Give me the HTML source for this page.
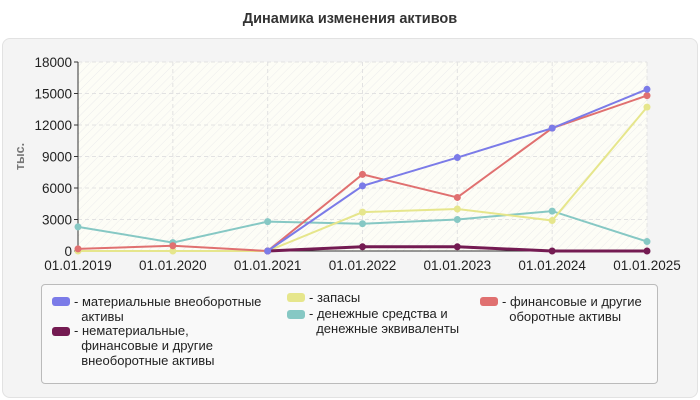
<!DOCTYPE html>
<html><head><meta charset="utf-8"><style>
body{margin:0;background:#fff;font-family:"Liberation Sans",sans-serif;}
#wrap{position:relative;width:700px;height:400px;overflow:hidden;}
.lg{position:absolute;font-size:13px;line-height:15px;color:#222;}
.sw{position:absolute;width:18px;height:9px;border-radius:3px;}
</style></head><body>
<div id="wrap">
<div style="position:absolute;left:0;width:700px;top:11px;text-align:center;font-size:14.5px;font-weight:bold;color:#333">Динамика изменения активов</div>
<div style="position:absolute;left:2px;top:38px;width:694px;height:358px;background:#f4f4f4;border:1px solid #e2e2e2;border-radius:8px"></div>
<svg id="svg" width="700" height="400" style="position:absolute;left:0;top:0">
<defs><pattern id="hatch" width="6" height="6" patternUnits="userSpaceOnUse" patternTransform="rotate(45)"><rect width="6" height="6" fill="#fdfdf6"/><line x1="0" y1="0" x2="0" y2="6" stroke="#ececec" stroke-width="1"/></pattern></defs>
</svg>
<div style="position:absolute;left:41px;top:284px;width:615px;height:98px;border:1px solid #bbb;border-radius:4px;background:#f9f9f9"></div>
<div class="sw" style="left:52px;top:297px;background:#7b7be8"></div>
<div class="lg" style="left:74px;top:294px;width:210px">- материальные внеоборотные<br>&nbsp;&nbsp;активы</div>
<div class="sw" style="left:52px;top:327px;background:#741b52"></div>
<div class="lg" style="left:74px;top:323px;width:210px">- нематериальные,<br>&nbsp;&nbsp;финансовые и другие<br>&nbsp;&nbsp;внеоборотные активы</div>
<div class="sw" style="left:287px;top:293px;background:#e6e68c"></div>
<div class="lg" style="left:309px;top:290px">- запасы</div>
<div class="sw" style="left:287px;top:310px;background:#86c8c4"></div>
<div class="lg" style="left:309px;top:306px">- денежные средства и<br>&nbsp;&nbsp;денежные эквиваленты</div>
<div class="sw" style="left:480px;top:297px;background:#e07070"></div>
<div class="lg" style="left:502px;top:294px">- финансовые и другие<br>&nbsp;&nbsp;оборотные активы</div>
</div>
<script>
const categories=["01.01.2019","01.01.2020","01.01.2021","01.01.2022","01.01.2023","01.01.2024","01.01.2025"];
const yTicks=[0,3000,6000,9000,12000,15000,18000];
const tangible=[null,null,0,6200,8900,11700,15400];
const intangible=[null,null,0,400,400,0,0];
const inventory=[0,0,0,3700,4000,2900,13700];
const cash=[2300,800,2800,2600,3000,3800,900];
const financial=[200,500,0,7300,5100,11700,14800];
const L=78,R=647,T=62,B=251,yMax=18000;
const xs=i=>L+(R-L)*i/(categories.length-1);
const ys=v=>B-(B-T)*v/yMax;
const svg=document.getElementById('svg');
const NS="http://www.w3.org/2000/svg";
function mk(t,a){const e=document.createElementNS(NS,t);for(const k in a)e.setAttribute(k,a[k]);svg.appendChild(e);return e;}
const bg=mk('rect',{x:L,y:T,width:R-L,height:B-T,fill:'url(#hatch)'});


yTicks.forEach(v=>{
 const g=mk('line',{x1:L,x2:R,y1:ys(v),y2:ys(v),stroke:'#e2e2e2','stroke-dasharray':'4,3'});
 
 
 const tk=mk('line',{x1:L-4,x2:L,y1:ys(v),y2:ys(v),stroke:'#333'});
 
 
 const t=mk('text',{x:L-6,y:ys(v)+5,'text-anchor':'end','font-size':'13.5',fill:'#222'});
 t.textContent=v;
 
 
});
categories.forEach((c,i)=>{
 const g=mk('line',{x1:xs(i),x2:xs(i),y1:T,y2:B,stroke:'#e2e2e2','stroke-dasharray':'4,3'});
 
 
 const t=mk('text',{x:xs(i),y:B+19,'text-anchor':'middle','font-size':'13.5',fill:'#222'});
 t.textContent=c;
 
 
});
const ya=mk('line',{x1:L,x2:L,y1:T,y2:B,stroke:'#333'});


const xa=mk('line',{x1:L,x2:R,y1:B,y2:B,stroke:'#333'});


const yt=mk('text',{x:0,y:0,transform:`translate(24,${(T+B)/2}) rotate(-90)`,'text-anchor':'middle','font-size':'12.5','font-weight':'bold',fill:'#777'});
yt.textContent='тыс.';


const series=[[cash,'#86c8c4',2,'cash'],[inventory,'#e6e68c',2,'inventory'],[intangible,'#741b52',3,'intangible'],[financial,'#e07070',2,'financial'],[tangible,'#7b7be8',2,'tangible']];
series.forEach(([d,col,w,n])=>{
 const pts=[];d.forEach((v,i)=>{if(v!==null)pts.push(xs(i)+','+ys(v));});
 const p=mk('polyline',{points:pts.join(' '),fill:'none',stroke:col,'stroke-width':w});
 
 
 d.forEach((v,i)=>{if(v===null)return;
  const c=mk('circle',{cx:xs(i),cy:ys(v),r:3.5,fill:col});
  
  
 });
});
</script>
</body></html>
